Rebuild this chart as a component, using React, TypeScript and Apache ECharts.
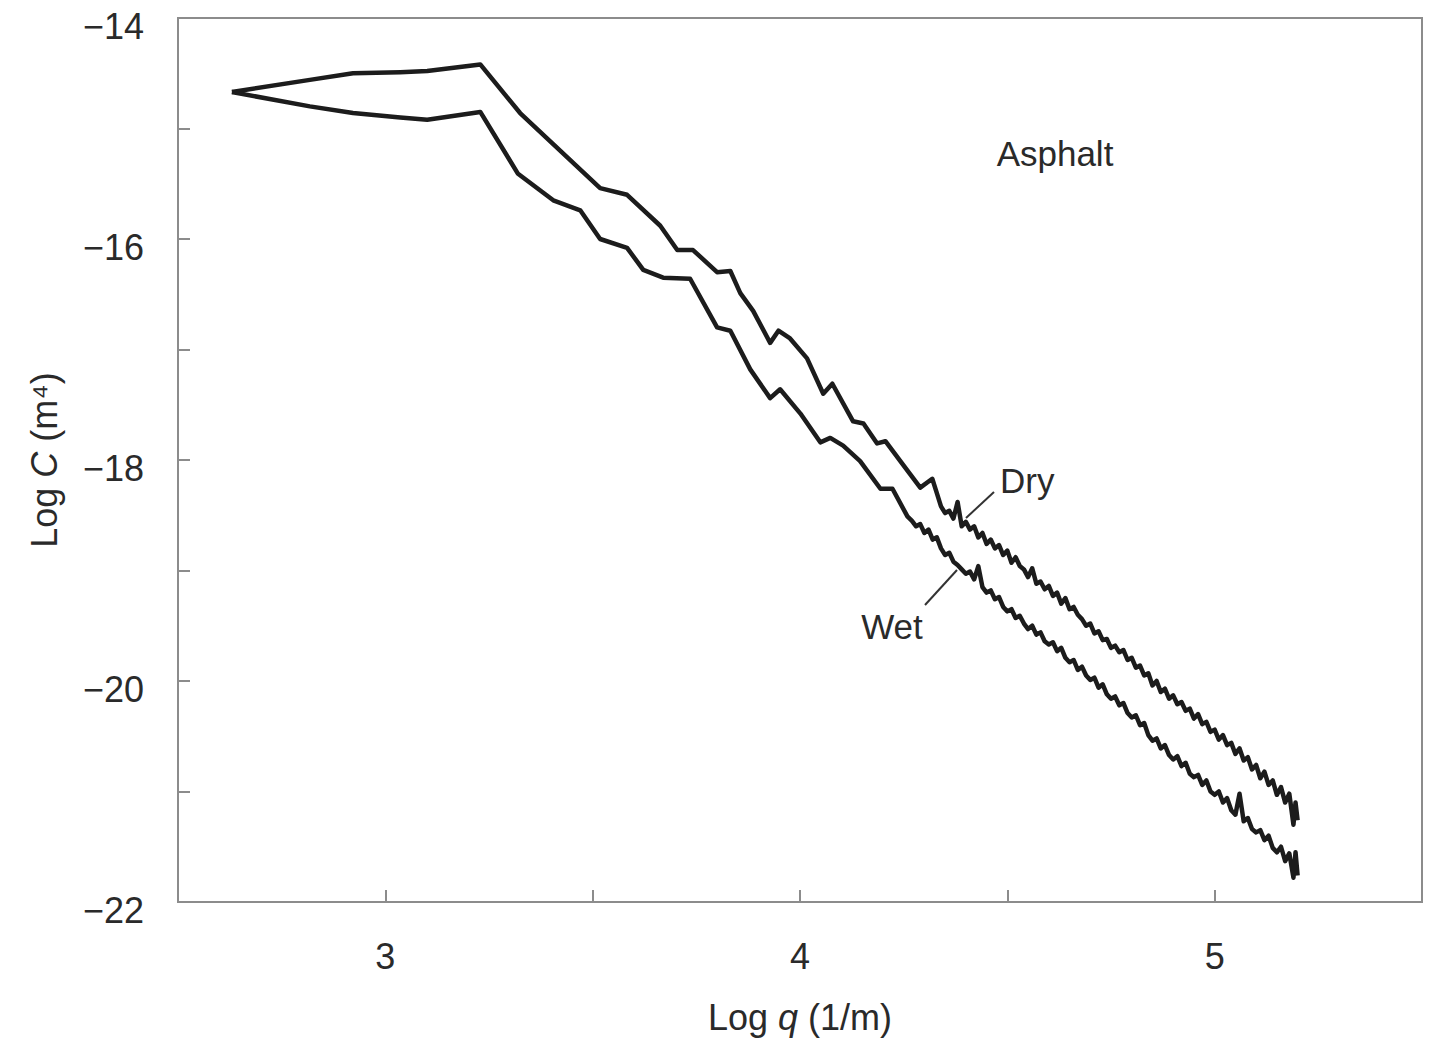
import React, { useEffect, useRef } from "react";
import * as echarts from "echarts";

// Log q (1/m), Log C (m^4) pairs
const dryCurve: [number, number][] = [
  [2.63, -14.67], [2.818, -14.56], [2.922, -14.5], [3.036, -14.49], [3.101, -14.48], [3.229, -14.42],
  [3.325, -14.86], [3.518, -15.54], [3.583, -15.6], [3.663, -15.88], [3.704, -16.1], [3.742, -16.1],
  [3.8, -16.3], [3.832, -16.29], [3.856, -16.49], [3.887, -16.65], [3.928, -16.94], [3.948, -16.83],
  [3.976, -16.9], [4.017, -17.08], [4.056, -17.4], [4.078, -17.31], [4.128, -17.65], [4.153, -17.67],
  [4.186, -17.85], [4.206, -17.83], [4.242, -18.01], [4.29, -18.25], [4.319, -18.17],
  [4.33, -18.3], [4.34, -18.42], [4.35, -18.48], [4.36, -18.46], [4.37, -18.53], [4.38, -18.38],
  [4.39, -18.6], [4.4, -18.56], [4.41, -18.63], [4.42, -18.6], [4.43, -18.7], [4.44, -18.66],
  [4.45, -18.76], [4.46, -18.72], [4.47, -18.8], [4.48, -18.77], [4.49, -18.86], [4.5, -18.82],
  [4.51, -18.93], [4.52, -18.88], [4.53, -18.96], [4.54, -18.99], [4.55, -19.06], [4.56, -18.98],
  [4.57, -19.12], [4.58, -19.1], [4.59, -19.17], [4.6, -19.14], [4.61, -19.23], [4.62, -19.2],
  [4.63, -19.3], [4.64, -19.25], [4.65, -19.35], [4.66, -19.33], [4.67, -19.4], [4.68, -19.44],
  [4.69, -19.5], [4.7, -19.48], [4.71, -19.57], [4.72, -19.55], [4.73, -19.63], [4.74, -19.62],
  [4.75, -19.7], [4.76, -19.68], [4.77, -19.74], [4.78, -19.72], [4.79, -19.81], [4.8, -19.79],
  [4.81, -19.88], [4.82, -19.86], [4.83, -19.95], [4.84, -19.93], [4.85, -20.04], [4.86, -20.0],
  [4.87, -20.1], [4.88, -20.07], [4.89, -20.16], [4.9, -20.13], [4.91, -20.21], [4.92, -20.19],
  [4.93, -20.27], [4.94, -20.25], [4.95, -20.34], [4.96, -20.3], [4.97, -20.39], [4.98, -20.37],
  [4.99, -20.46], [5.0, -20.44], [5.01, -20.53], [5.02, -20.49], [5.03, -20.58], [5.04, -20.56],
  [5.05, -20.66], [5.06, -20.61], [5.07, -20.72], [5.08, -20.69], [5.09, -20.8], [5.1, -20.76],
  [5.11, -20.88], [5.12, -20.82], [5.13, -20.94], [5.14, -20.9], [5.15, -21.03], [5.16, -20.96],
  [5.17, -21.1], [5.18, -21.02], [5.19, -21.3], [5.195, -21.1], [5.2, -21.26],
];

const wetCurve: [number, number][] = [
  [2.63, -14.67], [2.818, -14.8], [2.922, -14.86], [3.036, -14.9], [3.101, -14.92], [3.229, -14.85],
  [3.32, -15.41], [3.405, -15.65], [3.47, -15.74], [3.518, -16.0], [3.583, -16.08], [3.622, -16.28],
  [3.67, -16.35], [3.735, -16.36], [3.8, -16.8], [3.832, -16.83], [3.88, -17.18], [3.928, -17.44],
  [3.952, -17.36], [4.001, -17.58], [4.049, -17.84], [4.073, -17.8], [4.104, -17.87], [4.145, -18.01],
  [4.194, -18.26], [4.223, -18.26], [4.259, -18.51],
  [4.27, -18.55], [4.28, -18.6], [4.29, -18.58], [4.3, -18.66], [4.31, -18.63], [4.32, -18.72],
  [4.33, -18.7], [4.34, -18.8], [4.35, -18.86], [4.36, -18.84], [4.37, -18.92], [4.38, -18.95],
  [4.39, -18.99], [4.4, -19.03], [4.41, -19.01], [4.42, -19.08], [4.43, -18.96], [4.44, -19.15],
  [4.45, -19.2], [4.46, -19.18], [4.47, -19.26], [4.48, -19.24], [4.49, -19.33], [4.5, -19.37],
  [4.51, -19.35], [4.52, -19.43], [4.53, -19.41], [4.54, -19.48], [4.55, -19.53], [4.56, -19.5],
  [4.57, -19.58], [4.58, -19.56], [4.59, -19.64], [4.6, -19.67], [4.61, -19.65], [4.62, -19.73],
  [4.63, -19.7], [4.64, -19.79], [4.65, -19.83], [4.66, -19.81], [4.67, -19.9], [4.68, -19.87],
  [4.69, -19.95], [4.7, -19.99], [4.71, -19.97], [4.72, -20.06], [4.73, -20.03], [4.74, -20.12],
  [4.75, -20.16], [4.76, -20.14], [4.77, -20.22], [4.78, -20.2], [4.79, -20.29], [4.8, -20.33],
  [4.81, -20.31], [4.82, -20.4], [4.83, -20.38], [4.84, -20.49], [4.85, -20.54], [4.86, -20.52],
  [4.87, -20.61], [4.88, -20.58], [4.89, -20.67], [4.9, -20.71], [4.91, -20.68], [4.92, -20.77],
  [4.93, -20.74], [4.94, -20.84], [4.95, -20.87], [4.96, -20.85], [4.97, -20.94], [4.98, -20.9],
  [4.99, -21.0], [5.0, -21.03], [5.01, -21.0], [5.02, -21.1], [5.03, -21.06], [5.04, -21.17],
  [5.05, -21.21], [5.06, -21.02], [5.07, -21.27], [5.08, -21.24], [5.09, -21.34], [5.1, -21.37],
  [5.11, -21.35], [5.12, -21.44], [5.13, -21.4], [5.14, -21.51], [5.15, -21.55], [5.16, -21.5],
  [5.17, -21.63], [5.18, -21.56], [5.19, -21.78], [5.195, -21.55], [5.2, -21.76],
];

const xRange = [2.5, 5.5];
const yRange = [-22, -14];

const FONT = "'Liberation Sans Narrow', 'Liberation Sans', Arial, sans-serif";
const AXIS_GREY = "#8c8c8c";
const TEXT = "#2a2a2a";
const LINE = "#1c1c1c";

export default function App() {
  const ref = useRef<HTMLDivElement>(null);
  useEffect(() => {
    if (!ref.current) return;
    const chart = echarts.init(ref.current, null, { renderer: "svg" });
    chart.setOption({
      animation: false,
      backgroundColor: "#ffffff",
      grid: {
        left: 178,
        top: 18,
        right: 10,
        bottom: 126,
        show: true,
        borderColor: AXIS_GREY,
        borderWidth: 2,
      },
      xAxis: {
        type: "value",
        min: xRange[0],
        max: xRange[1],
        interval: 0.5,
        name: "Log {i|q} (1/m)",
        nameLocation: "middle",
        nameGap: 97,
        nameTextStyle: {
          fontFamily: FONT,
          fontSize: 36,
          color: TEXT,
          rich: { i: { fontFamily: FONT, fontSize: 36, fontStyle: "italic", color: TEXT } },
        },
        axisLine: { show: true, lineStyle: { color: AXIS_GREY, width: 2 } },
        axisTick: { show: true, inside: true, length: 12, lineStyle: { color: AXIS_GREY, width: 2 } },
        axisLabel: {
          margin: 36,
          fontFamily: FONT,
          fontSize: 36,
          color: TEXT,
          formatter: (v: number) => (Number.isInteger(v) ? String(v) : ""),
        },
        splitLine: { show: false },
      },
      yAxis: {
        type: "value",
        min: yRange[0],
        max: yRange[1],
        interval: 1,
        name: "Log {i|C} (m⁴)",
        nameLocation: "middle",
        nameGap: 116,
        nameRotate: 90,
        nameTextStyle: {
          fontFamily: FONT,
          fontSize: 36,
          color: TEXT,
          rich: { i: { fontFamily: FONT, fontSize: 36, fontStyle: "italic", color: TEXT } },
        },
        axisLine: { show: true, lineStyle: { color: AXIS_GREY, width: 2 } },
        axisTick: { show: true, inside: true, length: 12, lineStyle: { color: AXIS_GREY, width: 2 } },
        axisLabel: {
          margin: 34,
          fontFamily: FONT,
          fontSize: 36,
          color: TEXT,
          verticalAlign: "top",
          lineHeight: 16,
          formatter: (v: number) => (Math.round(v) % 2 === 0 ? "\u2212" + Math.abs(v) : ""),
        },
        splitLine: { show: false },
      },
      series: [
        {
          name: "Dry",
          type: "line",
          data: dryCurve,
          showSymbol: false,
          symbol: "none",
          lineStyle: { color: LINE, width: 4.5, join: "round" },
          z: 3,
        },
        {
          name: "Wet",
          type: "line",
          data: wetCurve,
          showSymbol: false,
          symbol: "none",
          lineStyle: { color: LINE, width: 4.5, join: "round" },
          z: 3,
        },
      ],
      graphic: [
        {
          type: "text",
          x: 1055,
          y: 153,
          style: { text: "Asphalt", fontFamily: FONT, fontSize: 35, fill: TEXT, align: "center", verticalAlign: "middle" },
        },
        {
          type: "text",
          x: 1000,
          y: 480,
          style: { text: "Dry", fontFamily: FONT, fontSize: 35, fill: TEXT, align: "left", verticalAlign: "middle" },
        },
        {
          type: "text",
          x: 892,
          y: 626,
          style: { text: "Wet", fontFamily: FONT, fontSize: 35, fill: TEXT, align: "center", verticalAlign: "middle" },
        },
        {
          type: "line",
          shape: { x1: 994, y1: 492, x2: 966, y2: 518 },
          style: { stroke: "#333333", lineWidth: 2 },
        },
        {
          type: "line",
          shape: { x1: 957, y1: 570, x2: 925, y2: 605 },
          style: { stroke: "#333333", lineWidth: 2 },
        },
      ],
    });
    return () => chart.dispose();
  }, []);
  return (
    <div
      ref={ref}
      style={{ position: "absolute", left: 0, top: 0, width: 1432, height: 1040 }}
    />
  );
}
